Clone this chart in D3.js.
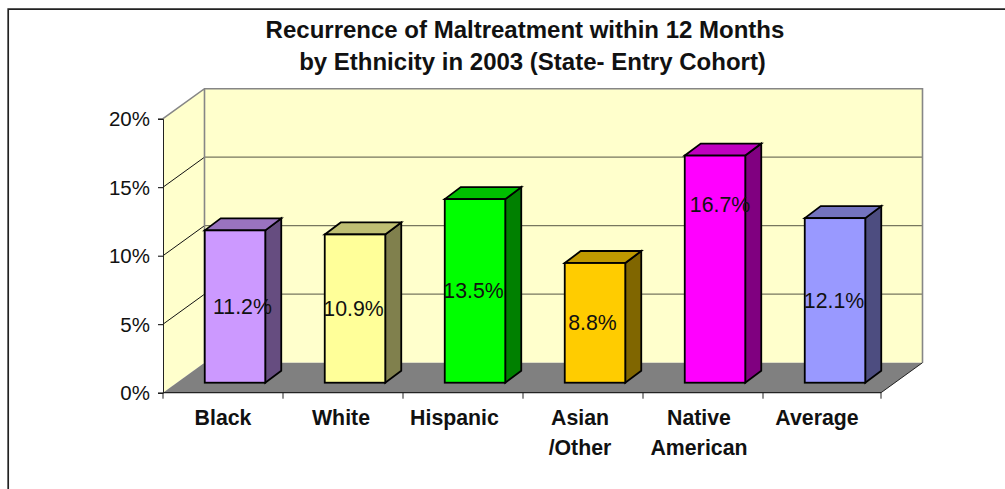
<!doctype html>
<html>
<head>
<meta charset="utf-8">
<title>Recurrence of Maltreatment within 12 Months</title>
<script src="https://d3js.org/d3.v7.min.js"></script>
<style>
	body { margin: 0; background: #fff; font-family: "Liberation Sans", Arial, sans-serif; }
	svg { display: block; }
</style>
</head>
<body>
<div id="plot"></div>
<script>
	// data
	const categories = ["Black", "White", "Hispanic", "Asian /Other", "Native American", "Average"];
	const values = [11.2, 10.9, 13.5, 8.8, 16.7, 12.1];
	const yTicks = [0, 5, 10, 15, 20];
	const titleLines = ["Recurrence of Maltreatment within 12 Months", "by Ethnicity in 2003 (State- Entry Cohort)"];

	const frontColors = ["#cc99ff", "#ffff99", "#00ff00", "#ffcc00", "#ff00ff", "#9999ff"];
	const topColors = ["#9973bf", "#bfbf73", "#00bf00", "#bf9900", "#bf00bf", "#7373bf"];
	const sideColors = ["#664d80", "#80804d", "#008000", "#806600", "#800080", "#4d4d80"];

	const width = 1005, height = 489;

	// depth of the 3d box and of the bars inside it
	const depth = {x: 41.5, y: -30};
	const barIn = {x: 12};
	const barDepth = {x: 16, y: -12};

	const svg = d3.select("#plot").append("svg")
		.attr("width", width)
		.attr("height", height);

	const x = d3.scaleBand()
		.domain(categories)
		.range([163, 883]);

	const y = d3.scaleLinear()
		.domain([0, 20])
		.range([392.7, 118.7]);

	// bars stand a little inside the box so they get their own scale
	const yBar = d3.scaleLinear()
		.domain([0, 20])
		.range([382.7, 110.7]);

	const barW = 60.5;
	const x0 = 163, x1 = 881;
	const path = pts => "M" + pts.map(p => p.join(",")).join("L") + "Z";

	// outer frame, open on the right and bottom
	svg.append("path")
		.attr("d", "M8.2,489V9.2H1005")
		.attr("fill", "none")
		.attr("stroke", "#222")
		.attr("stroke-width", 1.7);

	// walls
	svg.append("path")
		.attr("d", path([[x0, y(0)], [x0, y(20)], [x0 + depth.x, y(20) + depth.y], [x0 + depth.x, y(0) + depth.y]]))
		.attr("fill", "#ffffcc");
	svg.append("rect")
		.attr("x", x0 + depth.x)
		.attr("y", y(20) + depth.y)
		.attr("width", x1 - x0)
		.attr("height", y(0) - y(20))
		.attr("fill", "#ffffcc");

	// floor
	svg.append("path")
		.attr("d", path([[x0, y(0)], [x1, y(0)], [x1 + depth.x, y(0) + depth.y], [x0 + depth.x, y(0) + depth.y]]))
		.attr("fill", "#808080");

	// gridlines on the back wall and side wall
	yTicks.slice(1, -1).forEach(t => {
		svg.append("line")
			.attr("x1", x0 + depth.x).attr("x2", x1 + depth.x)
			.attr("y1", y(t) + depth.y).attr("y2", y(t) + depth.y)
			.attr("stroke", "#77775f").attr("stroke-width", 1.3);
		svg.append("line")
			.attr("x1", x0).attr("x2", x0 + depth.x)
			.attr("y1", y(t)).attr("y2", y(t) + depth.y)
			.attr("stroke", "#111").attr("stroke-width", 1);
	});

	// grey wall edges
	svg.append("path")
		.attr("d", `M${x0},${y(20)}L${x0 + depth.x},${y(20) + depth.y}H${x1 + depth.x}V${y(0) + depth.y}M${x0 + depth.x},${y(20) + depth.y}V${y(0) + depth.y}`)
		.attr("fill", "none")
		.attr("stroke", "#868686")
		.attr("stroke-width", 1.6);

	// floor edge to the right
	svg.append("line")
		.attr("x1", x1).attr("y1", y(0))
		.attr("x2", x1 + depth.x).attr("y2", y(0) + depth.y)
		.attr("stroke", "#222");

	// axes
	svg.append("g")
		.attr("transform", `translate(${x0},0)`)
		.call(d3.axisLeft(y).tickValues(yTicks).tickSize(5).tickFormat(d => d + "%"))
		.call(g => g.select(".domain").attr("stroke", "#222"))
		.call(g => g.selectAll("text").attr("font-family", "Liberation Sans, Arial, sans-serif").attr("font-size", 20.5).attr("fill", "#111").attr("dy", "0.34em").attr("x", -13));

	svg.append("line")
		.attr("x1", x0).attr("x2", x1)
		.attr("y1", y(0)).attr("y2", y(0))
		.attr("stroke", "#222").attr("stroke-width", 1.3);

	svg.selectAll(".xtick")
		.data([...categories.map(c => x(c)), x1])
		.enter().append("line")
		.attr("class", "xtick")
		.attr("x1", d => d).attr("x2", d => d)
		.attr("y1", y(0)).attr("y2", y(0) + 6)
		.attr("stroke", "#222");

	// category labels, wrapped on the space, not quite centred in the original
	const catShift = {
		"Black": 0, "White": -2, "Hispanic": -8.5,
		"Asian /Other": -3, "Native American": -4, "Average": -6
	};
	svg.selectAll(".cat")
		.data(categories)
		.enter().append("text")
		.attr("class", "cat")
		.attr("text-anchor", "middle")
		.attr("font-size", 21.3)
		.attr("font-weight", "bold")
		.attr("fill", "#111")
		.each(function(d) {
			const cx = x(d) + x.bandwidth() / 2 + catShift[d];
			d.split(" ").forEach((w, i) => {
				d3.select(this).append("tspan")
					.attr("x", cx)
					.attr("y", 424.5 + i * 30.5)
					.text(w);
			});
		});

	// bars
	const bars = svg.selectAll(".bar")
		.data(categories)
		.enter().append("g")
		.attr("class", "bar");

	const bx = d => x(d) + (x.bandwidth() - barW) / 2 + barIn.x;
	const by = d => yBar(values[categories.indexOf(d)]);
	const base = yBar(0);

	bars.append("path")
		.attr("d", d => path([[bx(d) + barW, by(d)], [bx(d) + barW + barDepth.x, by(d) + barDepth.y], [bx(d) + barW + barDepth.x, base + barDepth.y], [bx(d) + barW, base]]))
		.attr("fill", (d, i) => sideColors[i]);
	bars.append("path")
		.attr("d", d => path([[bx(d), by(d)], [bx(d) + barDepth.x, by(d) + barDepth.y], [bx(d) + barW + barDepth.x, by(d) + barDepth.y], [bx(d) + barW, by(d)]]))
		.attr("fill", (d, i) => topColors[i]);
	bars.append("rect")
		.attr("x", d => bx(d))
		.attr("y", d => by(d))
		.attr("width", barW)
		.attr("height", d => base - by(d))
		.attr("fill", (d, i) => frontColors[i]);
	bars.selectAll("path,rect")
		.attr("stroke", "#000")
		.attr("stroke-width", 1.8)
		.attr("stroke-linejoin", "miter");

	// value labels sit mid bar, with the hand placed shifts of the original
	const labelShift = {
		"Black": [7.5, 0], "White": [-1.5, 0], "Hispanic": [-1.5, 0],
		"Asian /Other": [-2.5, 0], "Native American": [5, -64], "Average": [-1, 0]
	};
	svg.selectAll(".val")
		.data(categories)
		.enter().append("text")
		.attr("class", "val")
		.attr("x", d => bx(d) + barW / 2 + labelShift[d][0])
		.attr("y", d => (by(d) + base) / 2 + labelShift[d][1])
		.attr("dy", "0.34em")
		.attr("text-anchor", "middle")
		.attr("font-size", 21.3)
		.attr("fill", "#111")
		.text((d, i) => values[i].toFixed(1) + "%");

	// title
	svg.selectAll(".title")
		.data(titleLines)
		.enter().append("text")
		.attr("class", "title")
		.attr("x", (d, i) => i ? 532.5 : 525)
		.attr("y", (d, i) => 37.5 + i * 32)
		.attr("text-anchor", "middle")
		.attr("font-size", 24)
		.attr("font-weight", "bold")
		.attr("fill", "#111")
		.text(d => d);
</script>
</body>
</html>
